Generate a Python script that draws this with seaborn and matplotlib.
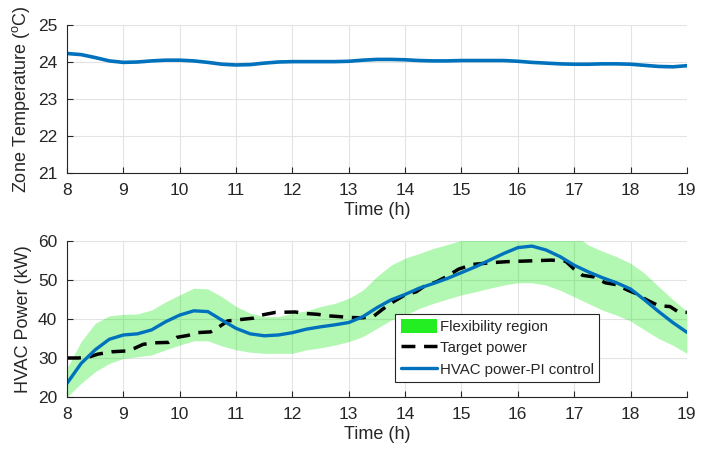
import numpy as np
import pandas as pd
import matplotlib
matplotlib.use("Agg")
import matplotlib.pyplot as plt
import seaborn as sns
from matplotlib.patches import Patch
from matplotlib.lines import Line2D

# ---- data ----
t_q = [8.0, 8.25, 8.5, 8.75, 9.0, 9.25, 9.5, 9.75, 10.0, 10.25, 10.5, 10.75, 11.0, 11.25, 11.5, 11.75,
       12.0, 12.25, 12.5, 12.75, 13.0, 13.25, 13.5, 13.75, 14.0, 14.25, 14.5, 14.75, 15.0, 15.25, 15.5,
       15.75, 16.0, 16.25, 16.5, 16.75, 17.0, 17.25, 17.5, 17.75, 18.0, 18.25, 18.5, 18.75, 19.0]
temp = [24.23, 24.2, 24.12, 24.03, 23.99, 24.0, 24.03, 24.05, 24.05, 24.03, 23.99, 23.94, 23.92, 23.93,
        23.97, 24.0, 24.01, 24.01, 24.01, 24.01, 24.02, 24.05, 24.07, 24.07, 24.06, 24.04, 24.03, 24.03,
        24.04, 24.04, 24.04, 24.04, 24.02, 23.99, 23.97, 23.95, 23.94, 23.94, 23.95, 23.95, 23.94, 23.91,
        23.88, 23.87, 23.9]
hvac = [23.5, 28.6, 32.1, 34.8, 35.9, 36.2, 37.2, 39.3, 41.0, 42.1, 41.9, 39.7, 37.6, 36.2, 35.7, 35.9,
        36.5, 37.4, 38.0, 38.5, 39.1, 40.6, 42.9, 44.9, 46.3, 47.9, 49.1, 50.4, 51.9, 53.4, 55.1,
        56.8, 58.3, 58.7, 57.7, 56.0, 53.8, 52.1, 50.6, 49.3, 47.7, 44.9, 41.9, 39.1, 36.6]
flex_upper = [27.4, 34.2, 38.9, 40.8, 41.2, 41.3, 42.3, 44.4, 46.2, 47.9, 47.7, 45.7, 43.2, 41.5, 40.6, 40.6,
              41.5, 42.1, 43.2, 44.0, 45.3, 47.4, 50.9, 53.8, 55.6, 56.8, 58.1, 59.1, 60.2, 61.5, 63.0,
              65.0, 67.0, 67.5, 66.0, 64.0, 61.5, 59.0, 57.4, 56.0, 54.3, 51.7, 48.3, 45.0, 42.0]
flex_lower = [20.0, 23.5, 26.5, 28.6, 29.9, 30.3, 30.8, 32.1, 33.3, 34.4, 34.4, 33.1, 32.1, 31.5, 31.2, 31.2,
              31.2, 32.1, 32.6, 33.3, 34.2, 35.5, 37.6, 39.7, 41.0, 42.7, 44.0, 45.1, 46.2, 47.0, 47.9,
              48.7, 49.3, 49.3, 48.7, 47.4, 45.7, 44.0, 42.3, 41.0, 39.5, 37.2, 35.0, 33.3, 31.2]
t_target = [8.0, 8.2, 8.4, 8.55, 8.8, 9.05, 9.2, 9.35, 9.55, 9.8, 9.95, 10.15, 10.3, 10.55, 10.7, 10.85,
            11.1, 11.3, 11.45, 11.7, 12.05, 12.25, 12.45, 12.65, 12.85, 13.0, 13.25, 13.45, 13.6, 13.8,
            14.0, 14.2, 14.35, 14.55, 14.75, 14.95, 15.2, 15.5, 15.8, 16.2, 16.6, 16.85, 17.0, 17.15,
            17.35, 17.55, 17.75, 17.95, 18.1, 18.3, 18.5, 18.7, 18.85, 19.0]
target = [30.0, 30.0, 30.3, 31.0, 31.6, 31.8, 32.5, 33.5, 33.9, 34.0, 35.3, 35.8, 36.5, 36.7, 38.0, 39.5,
          39.9, 40.2, 41.0, 41.7, 41.8, 41.4, 41.2, 40.8, 40.6, 40.4, 40.3, 40.8, 42.5, 44.5,
          46.2, 47.0, 48.5, 49.5, 51.0, 52.8, 54.0, 54.4, 54.7, 54.9, 55.1, 54.8, 52.8, 51.2,
          50.8, 49.3, 48.8, 47.4, 46.5, 44.8, 43.4, 43.2, 41.8, 41.7]
x_ticks = [8, 9, 10, 11, 12, 13, 14, 15, 16, 17, 18, 19]

df_q = pd.DataFrame({"t": t_q, "temp": temp, "hvac": hvac, "up": flex_upper, "lo": flex_lower})
df_t = pd.DataFrame({"t": t_target, "target": target})

# ---- style ----
sns.set_style("whitegrid", {"grid.color": "#e3e3e3", "axes.edgecolor": "#262626"})
plt.rcParams["font.family"] = ["Liberation Sans", "DejaVu Sans"]
plt.rcParams["mathtext.fontset"] = "custom"
plt.rcParams["mathtext.rm"] = "Liberation Sans"
plt.rcParams["mathtext.it"] = "Liberation Sans"

BLUE = "#0072BD"
TXT = "#262626"
fig = plt.figure(figsize=(7.23, 4.5), dpi=100)
ax1 = fig.add_axes([0.0927, 0.6156, 0.8573, 0.3288])
ax2 = fig.add_axes([0.0927, 0.1178, 0.8573, 0.3466])

# top
sns.lineplot(data=df_q, x="t", y="temp", ax=ax1, color=BLUE, linewidth=2.6)
ax1.set_xlim(8, 19)
ax1.set_ylim(21, 25)
ax1.set_yticks([21, 22, 23, 24, 25])
ax1.set_xticks(x_ticks)
ax1.set_xlabel("Time (h)", fontsize=13, color=TXT)
ax1.set_ylabel("Zone Temperature ($^{\\mathrm{o}}$C)", fontsize=13, color=TXT)

# bottom
ax2.fill_between(df_q["t"], df_q["lo"], df_q["up"], color="#00e600", alpha=0.3, linewidth=0)
sns.lineplot(data=df_t, x="t", y="target", ax=ax2, color="black", linewidth=2.5,
             linestyle=(0, (4, 2.5)))
sns.lineplot(data=df_q, x="t", y="hvac", ax=ax2, color=BLUE, linewidth=2.4)
ax2.set_xlim(8, 19)
ax2.set_ylim(20, 60)
ax2.set_yticks([20, 30, 40, 50, 60])
ax2.set_xticks(x_ticks)
ax2.set_xlabel("Time (h)", fontsize=13, color=TXT)
ax2.set_ylabel("HVAC Power (kW)", fontsize=13, color=TXT)

handles = [Patch(facecolor="#22ee22", edgecolor="none"),
           Line2D([], [], color="black", linewidth=2.5, linestyle=(0, (4, 2.5))),
           Line2D([], [], color=BLUE, linewidth=2.4)]
labels = ["Flexibility region", "Target power", "HVAC power-PI control"]
leg = ax2.legend(handles, labels, loc="lower right", bbox_to_anchor=(0.858, 0.096),
                 fontsize=10.8, frameon=True, fancybox=False, framealpha=1, edgecolor=TXT,
                 borderpad=0.35, labelspacing=0.4, handlelength=2.4, handleheight=1.1,
                 handletextpad=0.2, borderaxespad=0)
leg.get_frame().set_linewidth(0.8)
for txt in leg.get_texts():
    txt.set_color(TXT)

for ax in (ax1, ax2):
    ax.tick_params(axis="both", labelsize=12.5, direction="in", length=4, color=TXT,
                   labelcolor=TXT, bottom=True, left=True, pad=7)
    for s in ("top", "right"):
        ax.spines[s].set_visible(False)
    ax.spines["left"].set_linewidth(0.8)
    ax.spines["bottom"].set_linewidth(0.8)
    ax.grid(True, color="#e3e3e3", linewidth=0.8)
    ax.xaxis.labelpad = 3
    ax.yaxis.labelpad = 4

fig.savefig("out.png", dpi=100)
